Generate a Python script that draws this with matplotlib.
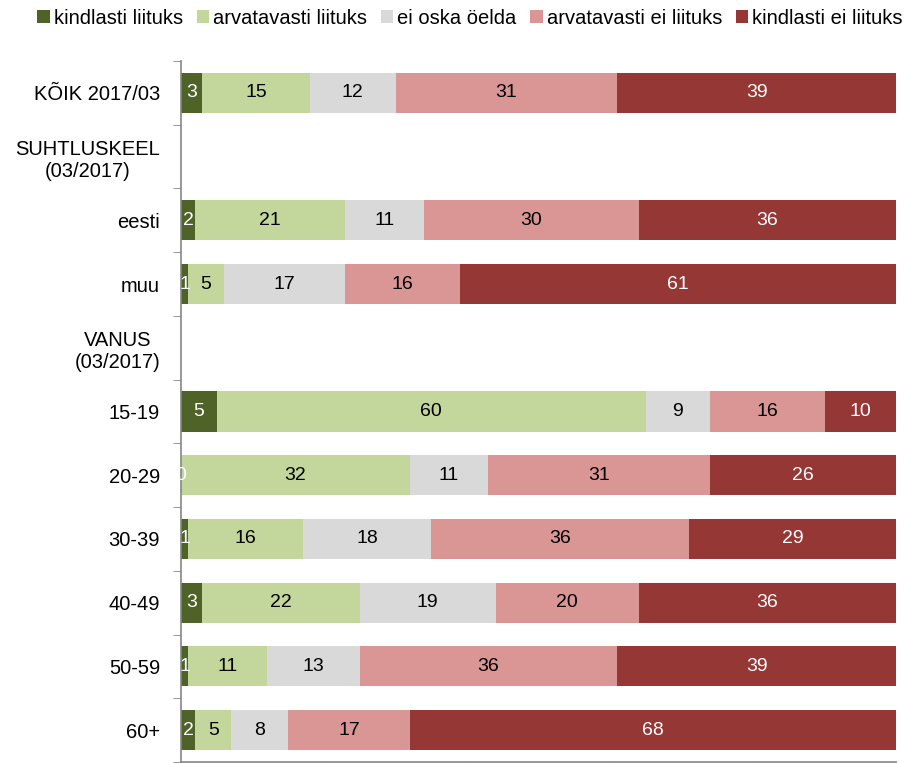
import numpy as np
import matplotlib.pyplot as plt

plt.rcParams['font.family'] = ['Liberation Sans', 'DejaVu Sans']

# rows top to bottom; header rows carry no bars
rows = ['KÕIK 2017/03', 'SUHTLUSKEEL\n(03/2017)', 'eesti', 'muu', 'VANUS\n(03/2017)',
        '15-19', '20-29', '30-39', '40-49', '50-59', '60+']
has_data = [True, False, True, True, False, True, True, True, True, True, True]

series = ['kindlasti liituks', 'arvatavasti liituks', 'ei oska öelda',
          'arvatavasti ei liituks', 'kindlasti ei liituks']
colors = ['#4F6228', '#C3D69B', '#D9D9D9', '#D99694', '#953735']
text_colors = ['white', 'black', 'black', 'black', 'white']

kindlasti_liituks    = [3, 2, 1, 5, 0, 1, 3, 1, 2]
arvatavasti_liituks  = [15, 21, 5, 60, 32, 16, 22, 11, 5]
ei_oska_oelda        = [12, 11, 17, 9, 11, 18, 19, 13, 8]
arvatavasti_ei       = [31, 30, 16, 16, 31, 36, 20, 36, 17]
kindlasti_ei         = [39, 36, 61, 10, 26, 29, 36, 39, 68]

values = np.array([kindlasti_liituks, arvatavasti_liituks, ei_oska_oelda,
                   arvatavasti_ei, kindlasti_ei], dtype=float)

ypos = np.arange(len(rows))
data_y = ypos[np.array(has_data)]

fig = plt.figure(figsize=(9.11, 7.63), dpi=100)
ax = fig.add_axes([181 / 911, 1 / 763, (896 - 181) / 911, (762 - 61) / 763])

left = np.zeros(values.shape[1])
for i in range(len(series)):
    ax.barh(data_y, values[i], left=left, height=0.63, color=colors[i],
            label=series[i], zorder=2)
    for y, l, v in zip(data_y, left, values[i]):
        ax.text(l + v / 2, y, f'{v:.0f}', ha='center', va='center',
                color=text_colors[i], fontsize=14, zorder=4)
    left += values[i]

ax.set_xlim(0, 100)
ax.set_ylim(len(rows) - 0.5, -0.5)
ax.set_xticks(np.arange(0, 101, 20))
ax.set_xticklabels([])
ax.set_yticks(ypos)
ax.set_yticklabels(rows, fontsize=14.5, multialignment='center')
ax.set_yticks(np.arange(-0.5, len(rows), 1), minor=True)
ax.tick_params(axis='y', which='major', length=0, pad=15)
ax.tick_params(axis='y', which='minor', length=6, color='#868686', direction='out')
ax.tick_params(axis='x', length=6, color='#868686', direction='out')

for s in ['top', 'right']:
    ax.spines[s].set_visible(False)
for s in ['left', 'bottom']:
    ax.spines[s].set_color('#868686')
    ax.spines[s].set_linewidth(1.2)

fig.legend(loc='center', bbox_to_anchor=(0.516, 1 - 18 / 763), ncol=5,
           frameon=False, fontsize=14.5, handlelength=0.6, handleheight=0.6,
           handletextpad=0.2, columnspacing=0.7, borderaxespad=0)

fig.savefig('out.png', dpi=100)
